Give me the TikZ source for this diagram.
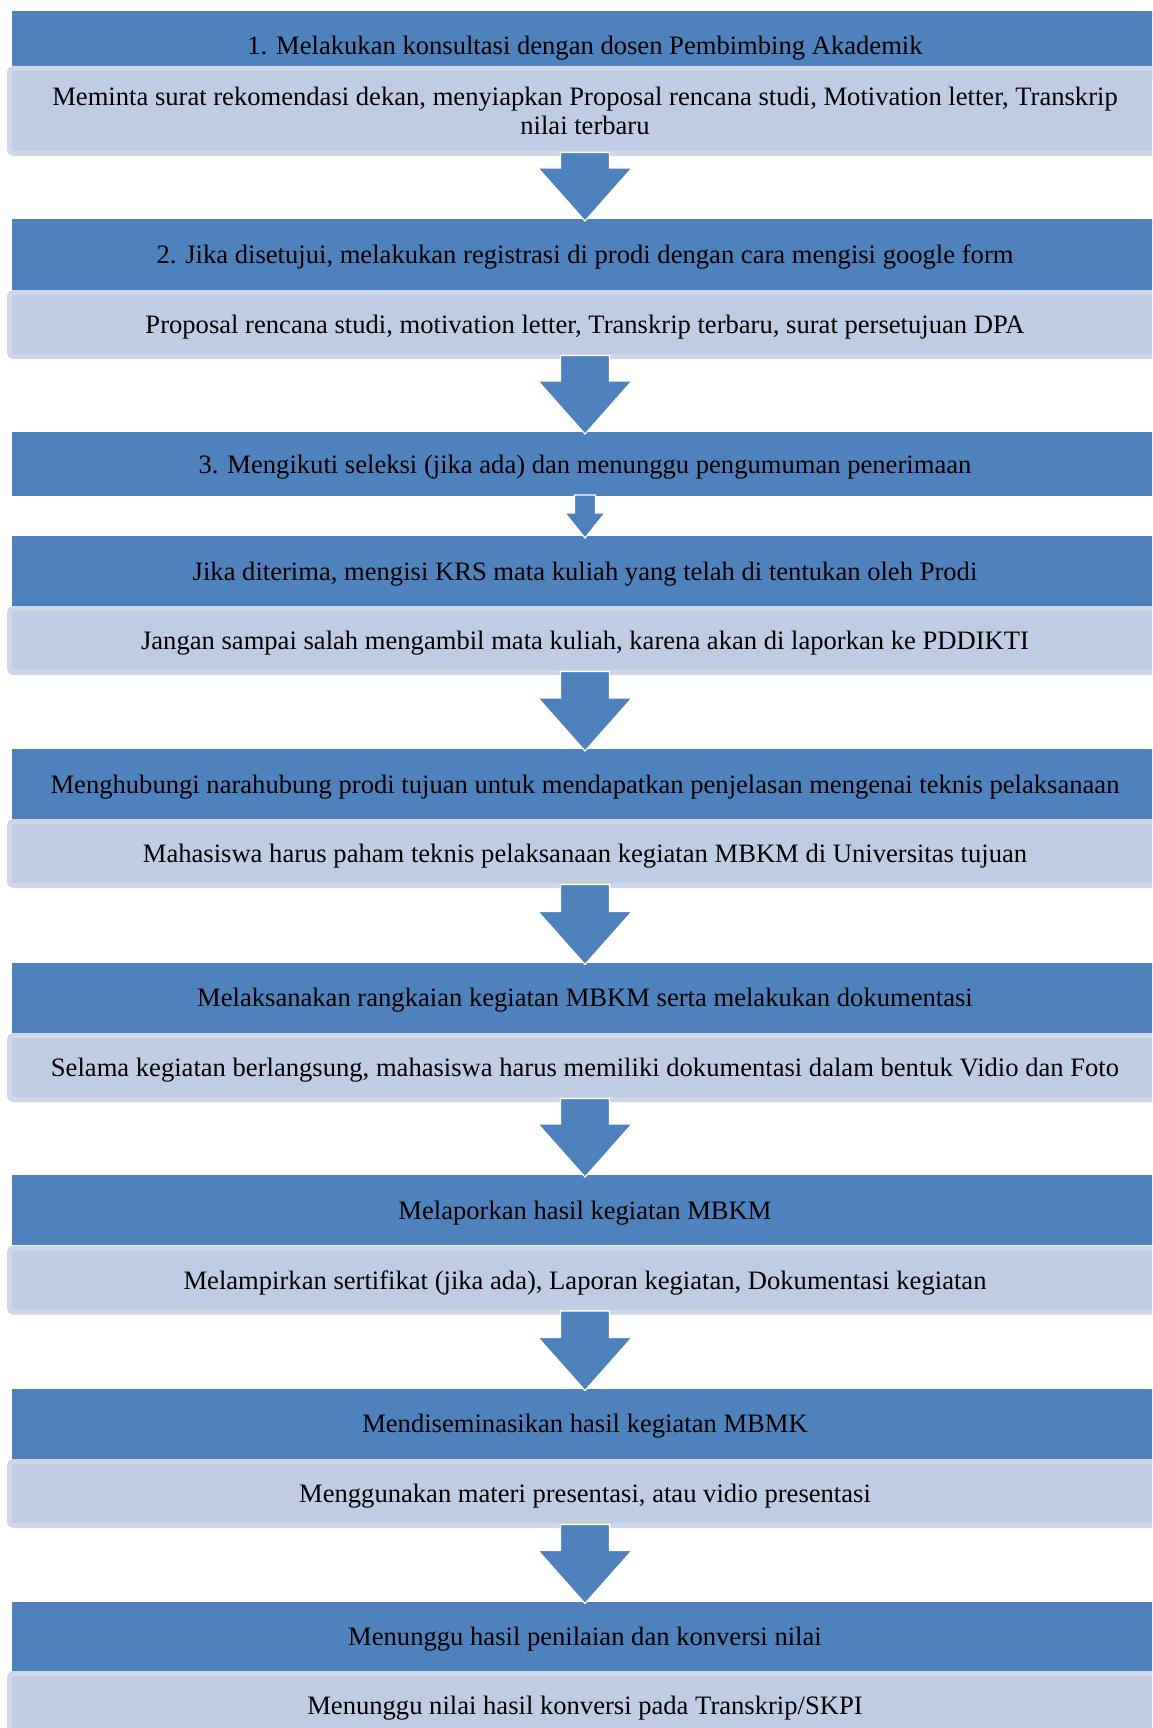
\documentclass[tikz,border=0pt]{standalone}
\usepackage{fontspec}
\setmainfont{Liberation Serif}
\usetikzlibrary{calc}
\definecolor{stepblue}{RGB}{79,129,189}
\definecolor{notefill}{RGB}{192,204,227}
\definecolor{noteedge}{RGB}{207,214,232}
\newcommand*{\pxu }{0.5pt}
\newcommand*{\midx}{585}
% block arrow from the bottom of #1 to the top of #2: shaft half width, head half width, head length
\newcommand*{\stepArrow}[5]{%
    \fill [stepblue, draw=white, line width=0.6pt]
        ($(#1.south)+(-#3,-1)$) -- ($(#1.south)+(#3,-1)$) -- ($(#2.north)+(#3,-#5)$) -- ($(#2.north)+(#4,-#5)$)
        -- ($(#2.north)+(0,2)$) -- ($(#2.north)+(-#4,-#5)$) -- ($(#2.north)+(-#3,-#5)$) -- cycle;}

\begin{document}
\begin{tikzpicture}[x=\pxu, y=-\pxu,
    stepbox/.style={fill=stepblue, minimum width=1146*\pxu, minimum height=70*\pxu, inner sep=0pt, outer sep=0pt,
        text depth=0pt, font=\fontsize{13.3}{14.5}\selectfont},
    notebox/.style={fill=notefill, draw=noteedge, line width=2.5pt, rounded corners=2pt, minimum width=1151*\pxu,
        minimum height=64*\pxu, inner sep=0pt, outer sep=0pt, align=center, text depth=0pt,
        font=\fontsize{13.3}{14.5}\selectfont}]
    \useasboundingbox (0,0) rectangle (1152,1728);
    \clip (0,0) rectangle (1152,1728);

    \node [stepbox, minimum height=69*\pxu] (b1) at (\midx,45.5) {1. Melakukan konsultasi dengan dosen Pembimbing Akademik};
    \node [notebox, minimum height=85*\pxu] (p1) at (\midx,111) {Meminta surat rekomendasi dekan, menyiapkan Proposal rencana studi, Motivation letter, Transkrip\\nilai terbaru};

    \node [stepbox, minimum height=71*\pxu] (b2) at (\midx,254.5) {2. Jika disetujui, melakukan registrasi di prodi dengan cara mengisi google form};
    \node [notebox] (p2) at (\midx,324.5) {Proposal rencana studi, motivation letter, Transkrip terbaru, surat persetujuan DPA};

    \node [stepbox, minimum height=64*\pxu] (b3) at (\midx,464) {3. Mengikuti seleksi (jika ada) dan menunggu pengumuman penerimaan};

    \node [stepbox] (b4) at (\midx,571) {Jika diterima, mengisi KRS mata kuliah yang telah di tentukan oleh Prodi};
    \node [notebox] (p4) at (\midx,640.5) {Jangan sampai salah mengambil mata kuliah, karena akan di laporkan ke PDDIKTI};

    \node [stepbox] (b5) at (\midx,784) {Menghubungi narahubung prodi tujuan untuk mendapatkan penjelasan mengenai teknis pelaksanaan};
    \node [notebox] (p5) at (\midx,853.5) {Mahasiswa harus paham teknis pelaksanaan kegiatan MBKM di Universitas tujuan};

    \node [stepbox] (b6) at (\midx,997.5) {Melaksanakan rangkaian kegiatan MBKM serta melakukan dokumentasi};
    \node [notebox] (p6) at (\midx,1067.5) {Selama kegiatan berlangsung, mahasiswa harus memiliki dokumentasi dalam bentuk Vidio dan Foto};

    \node [stepbox] (b7) at (\midx,1210) {Melaporkan hasil kegiatan MBKM};
    \node [notebox] (p7) at (\midx,1280) {Melampirkan sertifikat (jika ada), Laporan kegiatan, Dokumentasi kegiatan};

    \node [stepbox] (b8) at (\midx,1423.5) {Mendiseminasikan hasil kegiatan MBMK};
    \node [notebox] (p8) at (\midx,1493.5) {Menggunakan materi presentasi, atau vidio presentasi};

    \node [stepbox] (b9) at (\midx,1636.5) {Menunggu hasil penilaian dan konversi nilai};
    \node [notebox] (p9) at (\midx,1705.5) {Menunggu nilai hasil konversi pada Transkrip/SKPI};

    % arrows between the steps
    \stepArrow{p1}{b2}{24.5}{47}{51}
    \stepArrow{p2}{b3}{24.5}{47}{51}
    \stepArrow{b3}{b4}{10.5}{20}{23}
    \stepArrow{p4}{b5}{24.5}{47}{51}
    \stepArrow{p5}{b6}{24.5}{47}{51}
    \stepArrow{p6}{b7}{24.5}{47}{51}
    \stepArrow{p7}{b8}{24.5}{47}{51}
    \stepArrow{p8}{b9}{24.5}{47}{51}
\end{tikzpicture}
\end{document}
